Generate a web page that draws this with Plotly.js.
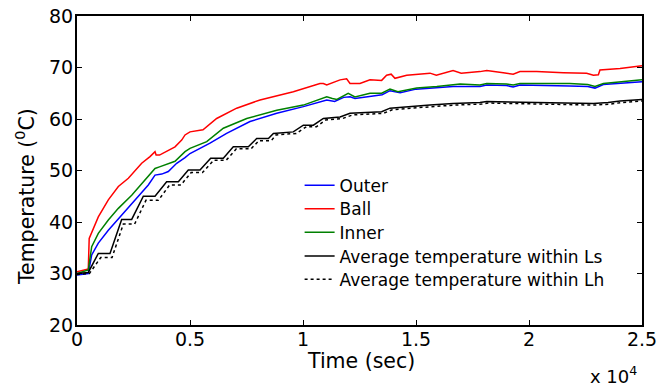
<!DOCTYPE html>
<html>
<head>
<meta charset="utf-8">
<script src="https://cdn.plot.ly/plotly-3.0.1.min.js"></script>
<style>html,body{margin:0;padding:0;background:#fff;}#chart{width:665px;height:387px;}</style>
</head>
<body>
<div id="chart"></div>
<script>
// ---- data (time in seconds, temperature in degC) ----
var outerT = [0, 500, 650, 943, 1386, 1976, 2567, 3155, 3452, 3750, 4040, 4411, 4780, 5000, 5885, 6620, 7655, 8840, 10015, 11050, 11400, 11800, 12080, 12300, 13500, 13850, 14300, 15000, 16640, 17830, 18130, 19000, 19300, 19600, 21800, 22600, 22920, 23290, 25000];
var outerV = [29.7, 30.0, 33.6, 35.9, 38.4, 41.4, 44.3, 47.2, 49.1, 49.3, 49.8, 51.4, 52.5, 53.3, 55.3, 57.2, 59.5, 61.1, 62.4, 63.7, 63.4, 64.2, 64.3, 64.0, 64.7, 65.5, 65.1, 65.8, 66.3, 66.3, 66.6, 66.5, 66.2, 66.6, 66.4, 66.3, 66.0, 66.7, 67.25];

var ballT = [0, 500, 540, 943, 1386, 1829, 2272, 2862, 3230, 3452, 3500, 3650, 4337, 4632, 4780, 5000, 5575, 6180, 7066, 8098, 9572, 10750, 10900, 11050, 11640, 11930, 12080, 12520, 12965, 13480, 13700, 13900, 14070, 14590, 15620, 15900, 16640, 17000, 17830, 18130, 18860, 19300, 19600, 20340, 21520, 22550, 22850, 23070, 23140, 24030, 25000];
var ballV = [30.35, 30.9, 36.8, 41.0, 44.3, 46.9, 48.5, 51.4, 52.7, 53.65, 53.0, 53.0, 54.6, 55.9, 56.9, 57.5, 57.9, 60.1, 62.1, 63.7, 65.3, 66.9, 66.9, 66.6, 67.6, 67.8, 66.9, 66.9, 67.6, 67.5, 68.5, 68.7, 67.9, 68.5, 68.9, 68.5, 69.4, 68.9, 69.2, 69.4, 69.0, 68.7, 69.2, 69.2, 69.0, 68.9, 68.5, 68.6, 69.5, 69.8, 70.35];

var innerT = [0, 500, 650, 943, 1386, 1829, 2420, 3010, 3452, 3650, 4337, 4780, 5000, 5740, 6475, 7510, 8840, 10015, 11050, 11300, 11500, 12000, 12300, 12965, 13480, 13850, 14200, 15030, 15920, 16950, 17830, 18130, 19000, 19300, 19600, 21800, 22600, 22920, 23290, 25000];
var innerV = [30.0, 30.7, 35.2, 37.8, 40.4, 42.65, 45.2, 48.2, 50.4, 50.7, 51.8, 53.65, 54.3, 55.6, 58.2, 60.1, 61.7, 62.7, 64.3, 64.0, 63.8, 65.0, 64.3, 65.0, 65.0, 65.8, 65.3, 66.0, 66.3, 66.8, 66.6, 66.9, 66.8, 66.6, 66.9, 66.9, 66.7, 66.3, 66.9, 67.6];

var lsT = [0, 500, 943, 1460, 1976, 2420, 2935, 3452, 3966, 4485, 4925, 5443, 5915, 6474, 6916, 7580, 7950, 8470, 8690, 9570, 10015, 10460, 10900, 11640, 12080, 12800, 13480, 13850, 14600, 15620, 16640, 17830, 18130, 22850, 23500, 24030, 25000];
var lsV = [30.0, 30.2, 33.9, 33.9, 40.5, 40.5, 45.0, 45.0, 47.8, 47.8, 50.1, 50.1, 52.4, 52.4, 54.6, 54.6, 56.2, 56.2, 57.2, 57.5, 58.8, 58.8, 60.1, 60.4, 61.1, 61.2, 61.4, 62.1, 62.3, 62.7, 63.0, 63.2, 63.4, 63.0, 63.2, 63.5, 63.8];

var lhT = [0, 550, 1050, 1550, 2050, 2550, 3050, 3600, 4100, 4600, 5050, 5550, 6050, 6600, 7050, 7700, 8050, 8600, 8800, 9700, 10150, 10600, 11000, 11750, 12200, 12900, 13550, 13950, 14700, 15700, 16700, 17900, 18200, 22900, 23600, 24100, 25000];
var lhV = [29.8, 30.0, 33.1, 33.1, 39.6, 39.6, 44.2, 44.2, 47.2, 47.2, 49.6, 49.6, 52.0, 52.0, 54.2, 54.2, 55.8, 55.8, 56.9, 57.2, 58.5, 58.5, 59.8, 60.1, 60.8, 60.9, 61.1, 61.8, 62.0, 62.4, 62.7, 62.9, 63.1, 62.7, 62.9, 63.2, 63.5];

var seriesNames = ['Outer', 'Ball', 'Inner', 'Average temperature within Ls', 'Average temperature within Lh'];
var xTickVals = [0, 5000, 10000, 15000, 20000, 25000];
var xTickText = ['0', '0.5', '1', '1.5', '2', '2.5'];
var yTickVals = [20, 30, 40, 50, 60, 70, 80];
var xTitle = 'Time (sec)';
var yTitle = 'Temperature (<sup>0</sup>C)';
var xExponent = 'x 10<sup>4</sup>';

// ---- styling ----
var FONT = 'DejaVu Sans, Arial, sans-serif';
var legendFont = {family: FONT, size: 17, color: '#000'};
function leg(yc) {
  return {x: 0.394, xanchor: 'left', y: yc, yanchor: 'middle', bgcolor: 'rgba(0,0,0,0)',
          borderwidth: 0, font: legendFont};
}
// pixel row -> paper y, pixel column -> paper x (plot area 77..642 x 16..325)
function py(px) { return (325 - px) / 309; }
function pxX(px) { return (px - 77) / 565; }

var traces = [
  {x: outerT, y: outerV, name: seriesNames[0], mode: 'lines', line: {color: '#0000ff', width: 1.5}, legend: 'legend'},
  {x: ballT, y: ballV, name: seriesNames[1], mode: 'lines', line: {color: '#ff0000', width: 1.5}, legend: 'legend2'},
  {x: innerT, y: innerV, name: seriesNames[2], mode: 'lines', line: {color: '#008000', width: 1.5}, legend: 'legend3'},
  {x: lsT, y: lsV, name: seriesNames[3], mode: 'lines', line: {color: '#000000', width: 1.5}, legend: 'legend4'},
  {x: lhT, y: lhV, name: seriesNames[4], mode: 'lines', line: {color: '#000000', width: 1.5, dash: 'dot'}, legend: 'legend5'}
];

var layout = {
  width: 665, height: 387,
  margin: {l: 77, r: 23, t: 16, b: 62, pad: 0},
  paper_bgcolor: '#ffffff', plot_bgcolor: '#ffffff',
  font: {family: FONT, color: '#000'},
  showlegend: true,
  legend: leg(py(185.7)),
  legend2: leg(py(209.3)),
  legend3: leg(py(232.8)),
  legend4: leg(py(256.4)),
  legend5: leg(py(279.8)),
  xaxis: {
    range: [0, 25000], tickvals: xTickVals, ticktext: xTickText,
    showline: true, linecolor: '#000', linewidth: 2, mirror: 'ticks',
    ticks: 'inside', ticklen: 5, tickwidth: 1, tickcolor: '#000',
    showgrid: false, zeroline: false, ticklabelstandoff: -4,
    tickfont: {family: FONT, size: 19, color: '#000'}
  },
  yaxis: {
    range: [20, 80], tickvals: yTickVals,
    showline: true, linecolor: '#000', linewidth: 2, mirror: 'ticks',
    ticks: 'inside', ticklen: 5, tickwidth: 1, tickcolor: '#000',
    showgrid: false, zeroline: false, ticklabelstandoff: -2,
    tickfont: {family: FONT, size: 19, color: '#000'}
  },
  annotations: [
    {text: xTitle, xref: 'paper', yref: 'paper', x: pxX(361), y: py(361),
     xanchor: 'center', yanchor: 'middle', showarrow: false,
     font: {family: FONT, size: 20.5, color: '#000'}},
    {text: yTitle, xref: 'paper', yref: 'paper', x: pxX(25), y: py(197), textangle: -90,
     xanchor: 'center', yanchor: 'middle', showarrow: false,
     font: {family: FONT, size: 20.5, color: '#000'}},
    {text: xExponent, xref: 'paper', yref: 'paper', x: pxX(639), y: py(375),
     xanchor: 'right', yanchor: 'middle', showarrow: false,
     font: {family: FONT, size: 18, color: '#000'}}
  ]
};

Plotly.newPlot('chart', traces, layout, {staticPlot: true, displayModeBar: false});
</script>
</body>
</html>
